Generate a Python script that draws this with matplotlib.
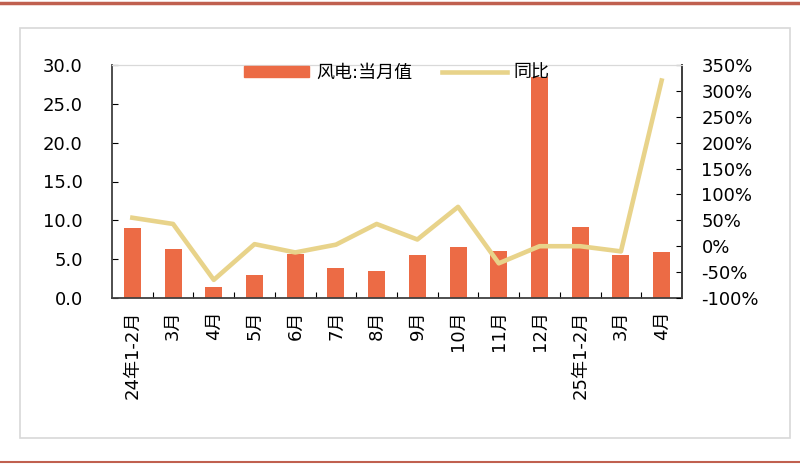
import matplotlib
matplotlib.use('Agg')
import matplotlib.pyplot as plt
from matplotlib.patches import Rectangle
from matplotlib.lines import Line2D
from matplotlib.ticker import FuncFormatter, MultipleLocator

plt.rcParams['font.family'] = ['DejaVu Sans', 'Noto Sans CJK SC']

months = ['24年1-2月', '3月', '4月', '5月', '6月', '7月', '8月', '9月',
          '10月', '11月', '12月', '25年1-2月', '3月', '4月']
wind_month = [9.0, 6.3, 1.4, 3.0, 5.7, 3.8, 3.5, 5.5, 6.6, 6.1, 28.5, 9.1, 5.6, 5.9]
yoy = [55, 43, -65, 4, -12, 3, 43, 13, 76, -33, 0, 0, -10, 320]

bar_color = '#EC6B45'
line_color = '#E8D38A'

fig = plt.figure(figsize=(8, 4.65), dpi=100)

# outer decoration: red rules and light frame
fig.add_artist(Line2D([0, 1], [1 - 3/465, 1 - 3/465], color='#C0604F', lw=2.5))
fig.add_artist(Line2D([0, 1], [3/465, 3/465], color='#C0604F', lw=1.5))
fig.add_artist(Rectangle((20/800, 27/465), 770/800, 410/465, fill=False,
                         edgecolor='#D8D8D8', lw=1.2))

ax = fig.add_axes([112/800, 1 - 298/465, 570/800, 233/465])
x = range(len(months))
ax.bar(x, wind_month, width=0.42, color=bar_color, zorder=2)
ax.set_ylim(0, 30)
ax.set_xlim(-0.5, len(months) - 0.5)
ax.yaxis.set_major_locator(MultipleLocator(5))
ax.yaxis.set_major_formatter(FuncFormatter(lambda v, p: f'{v:.1f}'))
ax.set_xticks([i + 0.5 for i in range(len(months) - 1)], minor=False)
ax.set_xticklabels([])
ax.set_xticks(list(x), minor=True)
ax.set_xticklabels(months, minor=True, rotation=90, fontsize=13)
ax.tick_params(axis='x', which='minor', length=0, pad=9)
ax.tick_params(axis='x', which='major', direction='in', length=4)
ax.tick_params(axis='y', direction='in', length=4, labelsize=13, pad=21)
for s in ['left', 'bottom', 'right']:
    ax.spines[s].set_color('#404040')
    ax.spines[s].set_linewidth(1.3)
ax.spines['top'].set_color('#D9D9D9')

ax2 = ax.twinx()
ax2.plot(list(x), yoy, color=line_color, lw=3.3, zorder=3)
ax2.set_ylim(-100, 350)
ax2.yaxis.set_major_locator(MultipleLocator(50))
ax2.yaxis.set_major_formatter(FuncFormatter(lambda v, p: f'{v:.0f}%'))
ax2.tick_params(axis='y', direction='in', length=4, labelsize=13, pad=14)
ax2.spines['right'].set_color('#404040')
ax2.spines['right'].set_linewidth(1.3)
ax2.spines['top'].set_color('#D9D9D9')
ax2.spines['left'].set_visible(False)
ax2.spines['bottom'].set_visible(False)

handles = [Rectangle((0, 0), 1, 1, color=bar_color),
           Line2D([0], [0], color=line_color, lw=3.3)]
ax2.legend(handles, ['风电:当月值', '同比'], loc='upper center',
           bbox_to_anchor=(0.5, 1.075), ncol=2, frameon=False, fontsize=13,
           handlelength=3.6, handleheight=0.6, columnspacing=1.6,
           handletextpad=0.4)

fig.savefig('out.png', dpi=100)
